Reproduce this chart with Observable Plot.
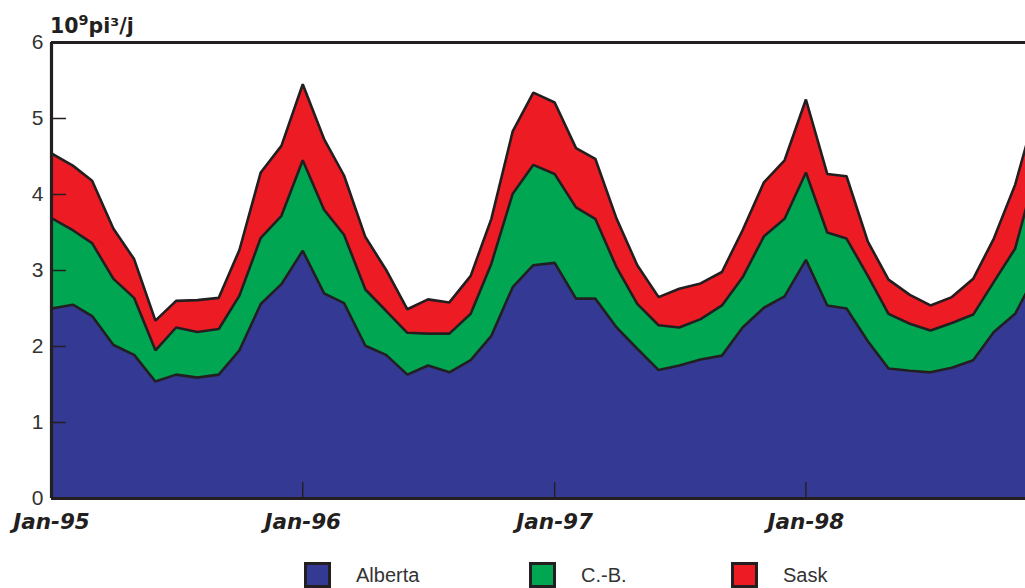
<!DOCTYPE html>
<html>
<head>
<meta charset="utf-8">
<script src="https://cdn.jsdelivr.net/npm/d3@7"></script>
<script src="https://cdn.jsdelivr.net/npm/@observablehq/plot@0.6"></script>
<style>
  body { margin: 0; background: #fff; }
  #wrap { position: relative; width: 1025px; height: 588px; overflow: hidden; background: #fff; }
  #chart { position: absolute; left: 0; top: 0; }
  #title { position: absolute; left: 50px; top: 16px; font: bold 20.5px "DejaVu Sans", sans-serif; color: #231f20; line-height: 1; white-space: nowrap; }
  #title .sup { font-size: 0.7em; position: relative; top: -0.55em; }
  .leg { position: absolute; top: 562px; height: 26px; display: flex; align-items: center; font: 20px "Liberation Sans", Arial, sans-serif; color: #333; white-space: nowrap; }
  .sw { box-sizing: border-box; width: 27px; height: 26px; border: 3px solid #231f20; }
</style>
</head>
<body>
<div id="wrap">
  <div id="chart"></div>
  <div id="title">10<span class="sup">9</span>pi³/j</div>
  <div id="legend"></div>
</div>
<script>
// Months Jan-95 .. Dec-98
const months = [];
for (let y = 1995; y <= 1998; y++) for (let m = 0; m < 12; m++) months.push(new Date(Date.UTC(y, m, 1)));

const seriesNames = ["Alberta", "C.-B.", "Sask"];
const seriesColors = ["#343a94", "#00a651", "#ed1c24"];

const alberta = [2.50,2.55,2.40,2.02,1.89,1.54,1.63,1.59,1.63,1.95,2.56,2.82,
                 3.26,2.70,2.57,2.01,1.89,1.63,1.75,1.66,1.82,2.14,2.78,3.07,
                 3.10,2.63,2.63,2.25,1.97,1.69,1.75,1.83,1.88,2.25,2.51,2.66,
                 3.14,2.54,2.50,2.07,1.71,1.68,1.66,1.72,1.82,2.19,2.43,2.95];
const cb      = [1.19,0.98,0.96,0.87,0.75,0.41,0.62,0.60,0.60,0.72,0.87,0.90,
                 1.19,1.10,0.90,0.74,0.58,0.55,0.42,0.51,0.61,0.95,1.23,1.32,
                 1.17,1.20,1.05,0.79,0.59,0.59,0.50,0.53,0.66,0.66,0.94,1.02,
                 1.15,0.96,0.92,0.86,0.72,0.62,0.55,0.59,0.60,0.66,0.86,1.35];
const sask    = [0.85,0.85,0.82,0.66,0.51,0.39,0.35,0.42,0.41,0.60,0.86,0.92,
                 1.00,0.93,0.78,0.69,0.54,0.31,0.45,0.41,0.50,0.59,0.82,0.95,
                 0.94,0.78,0.79,0.64,0.51,0.37,0.51,0.47,0.44,0.62,0.71,0.77,
                 0.96,0.77,0.82,0.45,0.45,0.38,0.33,0.34,0.47,0.57,0.84,0.80];

const yTicks = [0, 1, 2, 3, 4, 5, 6];
const yInnerTicks = [1, 2, 3, 4, 5];
const xTickLabels = ["Jan-95", "Jan-96", "Jan-97", "Jan-98"];
const xTickDates = [months[0], months[12], months[24], months[36]];
const xInnerTicks = [months[12], months[24], months[36]];
const xDomain = [new Date(Date.UTC(1995, 0, 1)), new Date(Date.UTC(1998, 10, 16))];

const values = [alberta, cb, sask];
const data = [];
seriesNames.forEach((s, si) => {
  months.forEach((d, i) => data.push({date: d, series: s, value: values[si][i]}));
});

const ink = "#231f20";
const fmt = d => xTickLabels[xTickDates.findIndex(t => +t === +d)];

const chart = Plot.plot({
  width: 1025,
  height: 540,
  marginLeft: 51,
  marginRight: 0,
  marginTop: 42,
  marginBottom: 42,
  style: {background: "transparent", overflow: "visible"},
  x: {type: "utc", domain: xDomain, label: null},
  y: {domain: [0, 6], label: null},
  color: {domain: seriesNames, range: seriesColors},
  marks: [
    Plot.areaY(data, {x: "date", y: "value", z: "series", fill: "series", clip: true}),
    Plot.lineY(data, Plot.stackY2({x: "date", y: "value", z: "series", stroke: ink, strokeWidth: 2.6, strokeLinejoin: "miter", clip: true})),
    Plot.axisY({ticks: yInnerTicks, tickSize: 15, dx: 15, text: null, label: null, stroke: ink, strokeWidth: 1.5}),
    Plot.axisY({ticks: yTicks, tickSize: 0, tickPadding: 8, label: null, fontSize: 21, fontFamily: "Liberation Sans, Arial, sans-serif", fill: "#333", tickFormat: d => String(d)}),
    Plot.axisX({ticks: xInnerTicks, tickSize: 16, dy: -16, text: null, label: null, stroke: ink, strokeWidth: 1.4}),
    Plot.axisX({ticks: xTickDates, tickSize: 0, tickPadding: 15, label: null, fontSize: 21.5, fontWeight: "bold", fontStyle: "italic", fontFamily: "DejaVu Sans, sans-serif", fill: ink, tickFormat: fmt}),
    Plot.ruleY([0, 6], {stroke: ink, strokeWidth: 3}),
    Plot.ruleX([xDomain[0]], {stroke: ink, strokeWidth: 3.2})
  ]
});
document.getElementById("chart").appendChild(chart);

// legend
const legLefts = [304, 529, 731];
const leg = document.getElementById("legend");
seriesNames.forEach((s, i) => {
  const item = document.createElement("div");
  item.className = "leg";
  item.style.left = legLefts[i] + "px";
  const sw = document.createElement("div");
  sw.className = "sw";
  sw.style.background = seriesColors[i];
  const t = document.createElement("span");
  t.textContent = s;
  t.style.marginLeft = "25px";
  item.appendChild(sw);
  item.appendChild(t);
  leg.appendChild(item);
});
</script>
</body>
</html>
